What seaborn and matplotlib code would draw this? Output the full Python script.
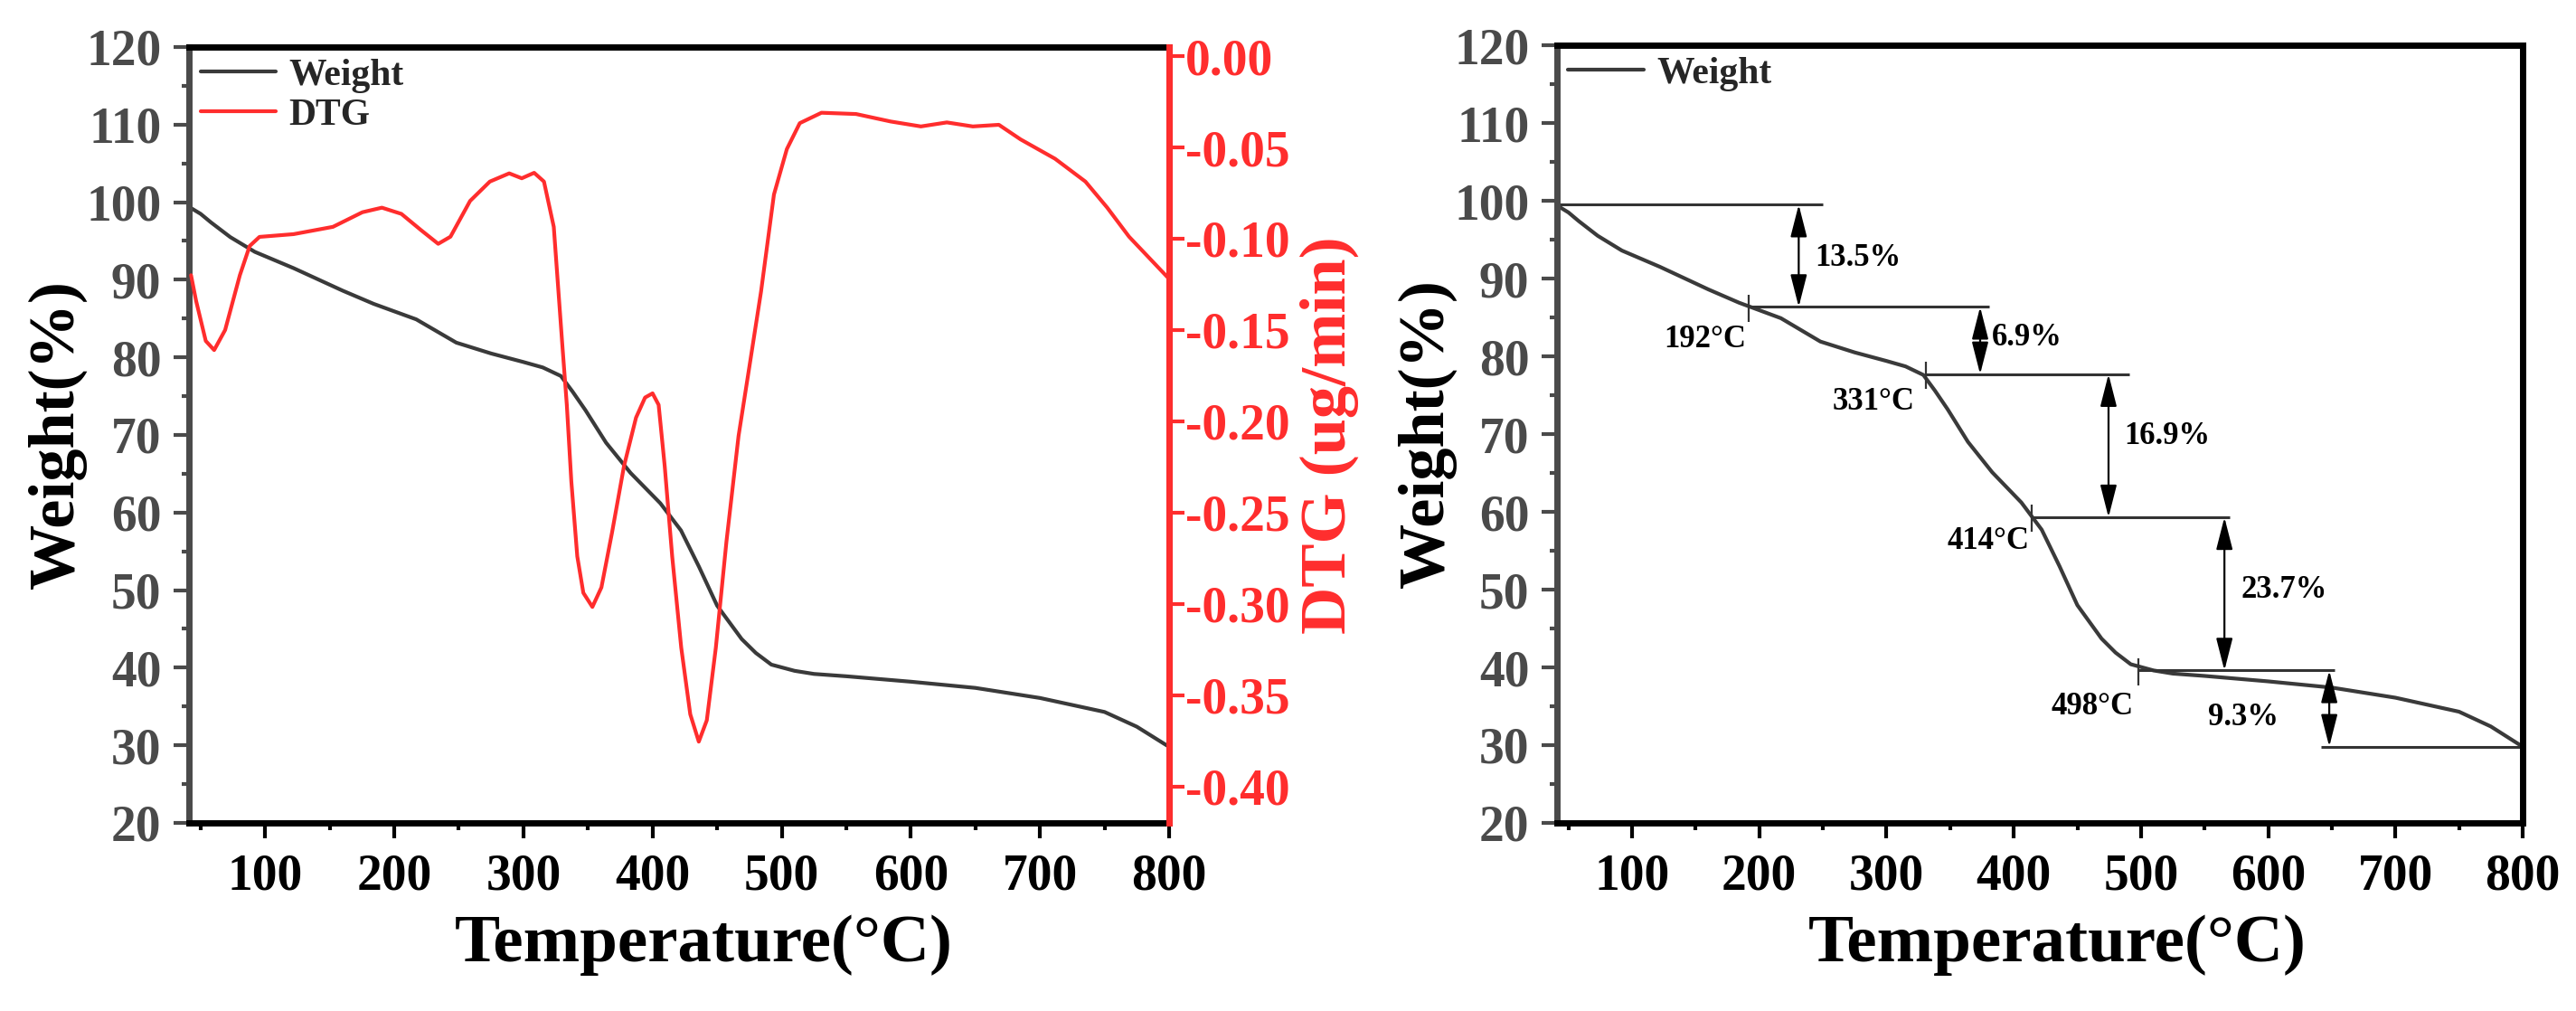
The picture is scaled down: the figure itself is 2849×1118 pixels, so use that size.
import matplotlib
matplotlib.use("Agg")
import matplotlib.pyplot as plt
import seaborn as sns
import pandas as pd
from matplotlib.ticker import MultipleLocator, FixedLocator, FormatStrFormatter
from matplotlib.lines import Line2D

# ---------------- data ----------------
temp_w = [41, 50, 58, 73, 92, 122, 160, 184, 217, 248, 275, 300, 315, 329, 338,
          348, 364, 383, 406, 422, 436, 450, 469, 480, 492, 510, 525, 550, 600,
          650, 700, 750, 775, 800]
weight = [99.4, 98.5, 97.4, 95.5, 93.6, 91.5, 88.6, 86.9, 84.9, 81.9, 80.5, 79.4,
          78.7, 77.6, 75.6, 73.2, 69.0, 65.1, 61.2, 57.7, 53.0, 48.0, 43.7, 41.9,
          40.4, 39.6, 39.2, 38.9, 38.2, 37.4, 36.1, 34.3, 32.4, 29.8]

temp_d = [42.6, 46.5, 54, 60.5, 69, 80.4, 88, 95.6, 122, 152.5, 175.3, 190.4,
          205.5, 220.7, 234, 243.5, 258.7, 274, 289, 298.7, 308.3, 315.9, 323.5,
          330.1, 333.6, 337.1, 341.7, 346.4, 353.4, 360.4, 368.6, 377.9, 387.2,
          394.2, 400, 404.7, 409.4, 415.2, 422.2, 429.2, 435.8, 442, 449, 457.2,
          466.6, 475, 484, 494, 504, 514, 530.8, 557.6, 584.4, 607.8, 627.9, 648,
          668.2, 685, 711.7, 735.2, 752, 769, 800]
dtg = [-0.120, -0.134, -0.156, -0.161, -0.150, -0.120, -0.104, -0.099, -0.0975,
       -0.0935, -0.0855, -0.083, -0.0864, -0.0953, -0.1028, -0.0989, -0.0793,
       -0.0687, -0.0642, -0.0669, -0.0639, -0.0687, -0.0935, -0.158, -0.191,
       -0.233, -0.274, -0.294, -0.3017, -0.291, -0.261, -0.2245, -0.198, -0.187,
       -0.1847, -0.191, -0.2245, -0.274, -0.324, -0.3605, -0.3755, -0.3638,
       -0.324, -0.266, -0.208, -0.170, -0.129, -0.0758, -0.0509, -0.0367, -0.031,
       -0.0317, -0.0358, -0.0385, -0.0363, -0.0385, -0.0376, -0.0456, -0.0562,
       -0.0687, -0.0829, -0.0989, -0.122]

x_ticks = [100, 200, 300, 400, 500, 600, 700, 800]
w_ticks = [20, 30, 40, 50, 60, 70, 80, 90, 100, 110, 120]
d_ticks = [0.00, -0.05, -0.10, -0.15, -0.20, -0.25, -0.30, -0.35, -0.40]

# right panel annotations
step_temps = [192, 331, 414, 498]
step_labels = ["192°C", "331°C", "414°C", "498°C"]
level_w = [99.5, 86.35, 77.7, 59.3, 39.6, 29.8]
level_x0 = [41, 192, 331, 414, 498, 641.5]
level_x1 = [250, 381, 491, 570, 652, 800]
arrow_x = [231, 373.6, 474.5, 565.6, 648]
loss_labels = ["13.5%", "6.9%", "16.9%", "23.7%", "9.3%"]
loss_pos = [(244, 92.6), (383, 82.4), (487, 69.7), (578.5, 49.9), (553, 33.6)]
temp_lab_pos = [(190, 82.2), (322, 74.1), (412, 56.2), (494, 34.9)]

# ---------------- style ----------------
sns.set_style("white")
plt.rcParams["font.family"] = ["Liberation Serif", "DejaVu Serif"]
plt.rcParams["font.weight"] = "bold"
plt.rcParams["axes.unicode_minus"] = False

GRAY = "#4a4a4a"
LINEGRAY = "#3a3a3a"
RED = "#ff2d2d"
TICKFS = 40
YLABFS = 52
XLABFS = 54
LEGFS = 30
ANNFS = 25

df_w = pd.DataFrame({"T": temp_w, "W": weight})
df_d = pd.DataFrame({"T": temp_d, "D": dtg})

fig = plt.figure(figsize=(28.49, 11.18), dpi=100)
ax1 = fig.add_axes([0.07336, 0.18605, 0.38048, 0.76744])
ax3 = fig.add_axes([0.60442, 0.18605, 0.37487, 0.7692])


def style_axis(ax, xlab_x):
    ax.set_xlim(41, 800)
    ax.set_ylim(20, 120)
    ax.xaxis.set_major_locator(FixedLocator(x_ticks))
    ax.xaxis.set_minor_locator(MultipleLocator(50))
    ax.yaxis.set_major_locator(FixedLocator(w_ticks))
    ax.yaxis.set_minor_locator(MultipleLocator(5))
    for s in ["top", "bottom", "right"]:
        ax.spines[s].set_color("black")
        ax.spines[s].set_linewidth(5)
    ax.spines["left"].set_color(GRAY)
    ax.spines["left"].set_linewidth(5)
    ax.tick_params(axis="x", which="major", direction="out", length=12, width=3,
                   color="black", labelsize=TICKFS, labelcolor="black", pad=12,
                   bottom=True, top=False)
    ax.tick_params(axis="x", which="minor", direction="out", length=6, width=3,
                   color="black", bottom=True, top=False)
    ax.tick_params(axis="y", which="major", direction="out", length=12, width=3,
                   color=GRAY, labelsize=TICKFS, labelcolor=GRAY, pad=10,
                   left=True, right=False)
    ax.tick_params(axis="y", which="minor", direction="out", length=6, width=3,
                   color=GRAY, left=True, right=False)
    for lab in ax.get_xticklabels() + ax.get_yticklabels():
        lab.set_fontweight("bold")
    ax.set_xlabel("Temperature(°C)", fontsize=XLABFS, fontweight="bold", color="black")
    ax.xaxis.set_label_coords(xlab_x, -0.118)
    ax.set_ylabel("Weight(%)", fontsize=YLABFS, fontweight="bold", color="black")
    ax.yaxis.set_label_coords(-0.104, 0.5)


# ---------------- left panel ----------------
sns.lineplot(data=df_w, x="T", y="W", ax=ax1, color=LINEGRAY, linewidth=3,
             sort=False, estimator=None, legend=False)
style_axis(ax1, 0.525)

ax2 = ax1.twinx()
sns.lineplot(data=df_d, x="T", y="D", ax=ax2, color=RED, linewidth=3,
             sort=False, estimator=None, legend=False)
ax2.set_xlim(41, 800)
ax2.set_ylim(-0.42, 0.005)
ax2.yaxis.set_major_locator(FixedLocator(d_ticks))
ax2.yaxis.set_major_formatter(FormatStrFormatter("%.2f"))
for s in ["top", "bottom", "left"]:
    ax2.spines[s].set_visible(False)
ax2.spines["right"].set_color(RED)
ax2.spines["right"].set_linewidth(5)
ax2.tick_params(axis="y", which="major", direction="out", length=12, width=3,
                color=RED, labelsize=TICKFS, labelcolor=RED, pad=1)
for lab in ax2.get_yticklabels():
    lab.set_fontweight("bold")
ax2.set_ylabel("DTG (ug/min)", fontsize=YLABFS, fontweight="bold", color=RED,
               labelpad=8)
ax2.set_xlabel("")

handles = [Line2D([], [], color=LINEGRAY, linewidth=3, label="Weight"),
           Line2D([], [], color=RED, linewidth=3, label="DTG")]
ax2.legend(handles=handles, loc="upper left", frameon=False,
           prop={"size": LEGFS, "weight": "bold"}, handlelength=2.0,
           handletextpad=0.35, labelspacing=0.15, borderaxespad=0.2,
           borderpad=0.1)

# ---------------- right panel ----------------
sns.lineplot(data=df_w, x="T", y="W", ax=ax3, color=LINEGRAY, linewidth=3,
             sort=False, estimator=None, legend=False)
style_axis(ax3, 0.518)
ax3.legend(handles=[handles[0]], loc="upper left", frameon=False,
           prop={"size": LEGFS, "weight": "bold"}, handlelength=2.0,
           handletextpad=0.35, borderaxespad=0.2, borderpad=0.1)

ax3.hlines(level_w, level_x0, level_x1, colors="#333333", linewidth=2.2)
for t, lv in zip(step_temps, level_w[1:5]):
    ax3.vlines(t, lv - 1.9, lv + 1.6, colors="#333333", linewidth=1.6)
for x, top, bot in zip(arrow_x, level_w[:-1], level_w[1:]):
    ax3.annotate("", xy=(x, bot), xytext=(x, top),
                 arrowprops=dict(arrowstyle="<|-|>,head_length=1.1,head_width=0.28",
                                 color="black", lw=1.6, shrinkA=0, shrinkB=0,
                                 mutation_scale=20))
for lab, (x, y) in zip(loss_labels, loss_pos):
    ax3.text(x, y, lab, fontsize=ANNFS, fontweight="bold", ha="left", va="center",
             color="black")
for lab, (x, y) in zip(step_labels, temp_lab_pos):
    ax3.text(x, y, lab, fontsize=ANNFS, fontweight="bold", ha="right", va="center",
             color="black")

fig.savefig("out.png", dpi=100, facecolor="white")
